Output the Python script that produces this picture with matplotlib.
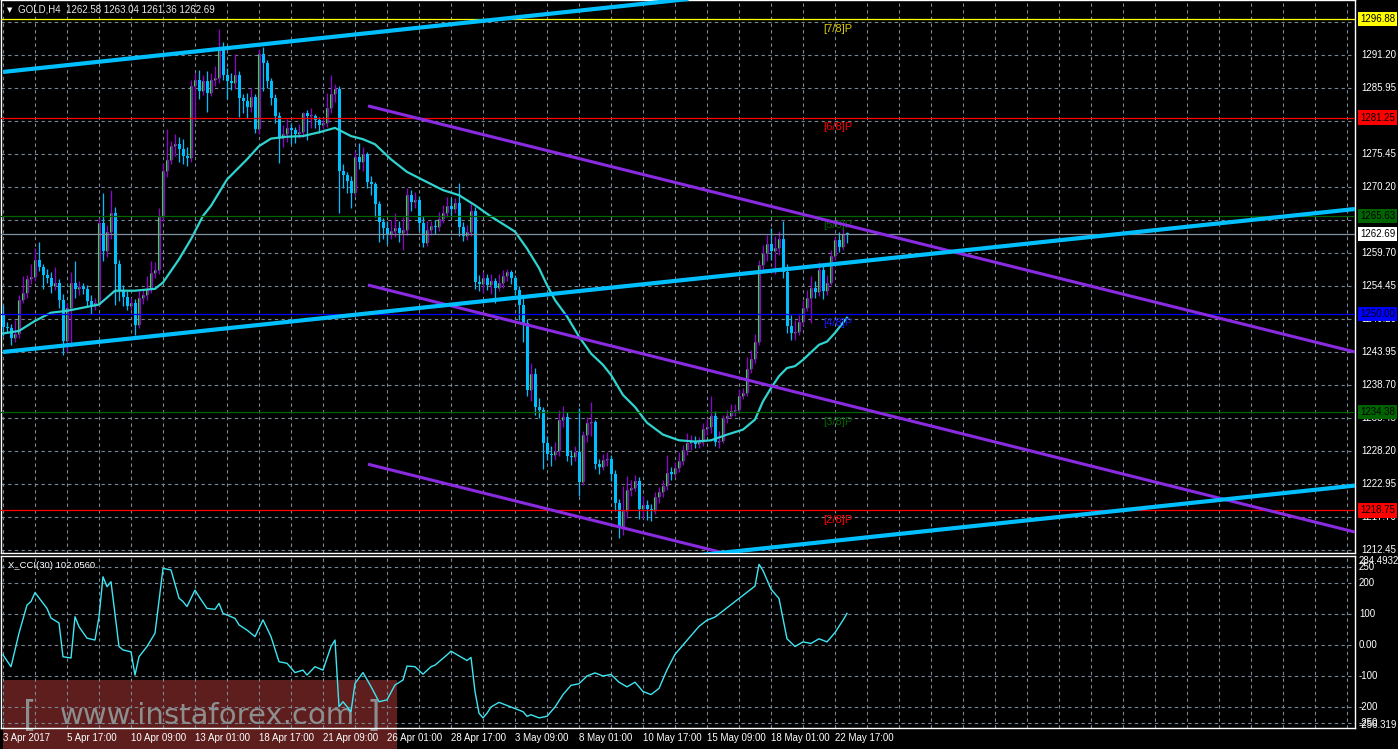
import matplotlib
matplotlib.use("Agg")
import matplotlib.pyplot as plt
import matplotlib.transforms as mtransforms
from matplotlib.patches import Rectangle
import numpy as np

plt.rcParams["font.family"] = ["Liberation Sans", "DejaVu Sans"]

W, H = 1398, 749

# H4 gold candles, 3 Apr - 23 May 2017
first_open = 1250.0
closes = [
    1248.0, 1247.8, 1246.2, 1246.8, 1252.3, 1253.3, 1255.5, 1255.9, 1258.6, 1257.5,
    1256.2, 1255.8, 1254.4, 1254.9, 1252.3, 1245.7, 1250.9, 1255.0, 1254.0, 1254.3,
    1254.0, 1252.1, 1251.3, 1251.8, 1264.4, 1260.0, 1263.0, 1266.0, 1258.0, 1253.8,
    1252.7, 1251.3, 1251.8, 1248.2, 1252.6, 1253.0, 1254.0, 1256.5, 1257.0, 1265.5,
    1272.7, 1274.5, 1276.7, 1277.0, 1276.2, 1275.2, 1274.8, 1286.3, 1287.3, 1285.5,
    1287.0, 1285.2, 1287.3, 1287.5, 1292.5, 1288.0, 1287.0, 1286.8, 1288.0, 1284.4,
    1283.9, 1283.0, 1284.5, 1279.4, 1291.3, 1290.0, 1287.0, 1284.4, 1281.5, 1278.0,
    1278.6, 1279.6, 1279.2, 1278.7, 1279.0, 1281.9, 1281.5, 1281.5, 1280.8, 1280.0,
    1280.4, 1282.8, 1285.0, 1285.8, 1272.7, 1272.1, 1271.2, 1269.3, 1275.0, 1274.2,
    1275.5, 1271.0, 1270.6, 1267.5, 1264.6, 1263.7, 1262.8, 1263.2, 1263.6, 1262.9,
    1263.3, 1268.9, 1267.8, 1268.2, 1264.4, 1261.3, 1263.3, 1264.0, 1263.8, 1265.1,
    1266.1, 1267.2, 1266.7, 1267.6, 1263.8, 1262.4, 1263.0, 1266.4, 1255.1, 1254.8,
    1255.7, 1254.6, 1255.3, 1254.1, 1255.0, 1256.0, 1256.6, 1255.8, 1253.8, 1251.4,
    1248.5, 1237.9, 1240.5, 1235.2, 1234.7, 1229.4, 1227.8, 1227.5, 1228.2, 1233.1,
    1233.6, 1227.4, 1227.3, 1228.0, 1223.3, 1230.8, 1232.6, 1232.8, 1226.2, 1225.7,
    1226.8, 1227.0, 1224.6, 1220.0, 1215.9, 1218.6, 1222.0, 1222.3, 1223.4, 1218.9,
    1219.6, 1218.9, 1218.7, 1220.8, 1221.6, 1222.6, 1224.7, 1224.6, 1225.5, 1226.6,
    1228.3, 1229.5, 1229.8, 1229.3, 1229.6, 1231.7, 1232.0, 1233.7, 1229.6, 1229.8,
    1233.4, 1233.8, 1234.5, 1234.8, 1236.9, 1237.5, 1241.2, 1242.8, 1245.5, 1257.8,
    1259.7, 1261.2, 1260.0, 1260.5, 1262.0, 1256.6, 1248.1, 1246.9, 1247.2, 1248.8,
    1251.0, 1252.5, 1254.1, 1253.5, 1257.0, 1253.6, 1255.0, 1259.3, 1261.7, 1260.6,
    1262.8, 1262.69,
]
highs = [
    1251.5, 1248.8, 1248.4, 1249.0, 1253.0, 1256.0, 1256.2, 1258.0, 1260.5, 1261.5,
    1258.0, 1257.2, 1256.6, 1257.5, 1255.6, 1253.2, 1251.8, 1256.6, 1258.4, 1255.2,
    1255.0, 1254.6, 1253.0, 1252.6, 1265.2, 1269.2, 1264.2, 1269.8, 1267.0, 1258.6,
    1254.6, 1253.6, 1252.6, 1252.4, 1253.6, 1254.0, 1256.0, 1258.4, 1258.2, 1266.8,
    1274.0, 1279.5, 1277.5, 1278.6, 1278.2, 1277.8, 1276.6, 1287.3, 1288.4, 1288.8,
    1288.0, 1288.6, 1288.4, 1289.4, 1295.4, 1293.2, 1289.2, 1288.4, 1291.4, 1288.6,
    1285.0, 1285.2, 1286.0, 1285.0, 1292.2, 1292.4, 1290.4, 1287.6, 1285.0, 1282.2,
    1280.0, 1281.0, 1280.4, 1279.8, 1280.2, 1282.2, 1282.4, 1282.8, 1281.8, 1281.4,
    1281.2, 1285.2, 1288.0, 1286.6, 1286.2, 1273.8, 1272.6, 1272.0, 1276.0, 1277.2,
    1276.6, 1275.8, 1272.0, 1271.0, 1268.0, 1265.2, 1264.8, 1265.0, 1266.0, 1264.8,
    1265.4, 1270.0, 1269.8, 1269.4, 1268.8, 1265.6, 1264.8, 1264.8, 1265.0, 1266.2,
    1267.4, 1268.6, 1268.4, 1268.4, 1270.9, 1264.6, 1264.2, 1267.6, 1267.0, 1256.2,
    1256.6, 1256.4, 1256.4, 1255.8, 1256.4, 1257.0, 1257.2, 1257.0, 1256.2, 1254.4,
    1252.6, 1249.2, 1242.2, 1241.4, 1236.6, 1235.2, 1230.6, 1229.0, 1229.6, 1234.8,
    1235.4, 1234.4, 1228.4, 1229.0, 1235.0, 1231.4, 1233.6, 1236.0, 1233.2, 1227.0,
    1227.8, 1228.0, 1227.6, 1225.2, 1220.6, 1222.6, 1224.2, 1223.6, 1224.4, 1224.0,
    1221.0, 1220.4, 1219.8, 1221.6, 1222.4, 1223.6, 1227.6, 1225.6, 1226.4, 1228.0,
    1229.2, 1231.0, 1230.8, 1230.6, 1230.4, 1232.6, 1233.4, 1237.0, 1234.6, 1231.4,
    1234.0, 1234.8, 1235.6, 1235.6, 1238.0, 1238.2, 1243.2, 1244.2, 1246.8, 1258.6,
    1261.0, 1262.6, 1263.6, 1262.4, 1263.2, 1264.8, 1258.0, 1249.8, 1249.0, 1249.8,
    1252.2, 1253.8, 1256.0, 1255.2, 1258.2, 1257.6, 1256.2, 1260.2, 1262.2, 1263.0,
    1263.6, 1263.04,
]
lows = [
    1246.5, 1246.9, 1245.0, 1245.6, 1246.2, 1251.8, 1252.6, 1254.8, 1255.2, 1256.8,
    1254.0, 1255.0, 1253.4, 1253.8, 1251.0, 1243.5, 1244.0, 1244.8, 1252.5, 1253.0,
    1253.2, 1251.2, 1250.0, 1250.6, 1251.2, 1258.5, 1259.0, 1262.0, 1251.5, 1252.0,
    1251.2, 1250.6, 1250.8, 1246.6, 1247.8, 1251.6, 1252.2, 1253.4, 1255.8, 1256.4,
    1264.8, 1271.8, 1273.8, 1275.2, 1274.2, 1273.8, 1273.6, 1274.2, 1280.8, 1284.2,
    1284.8, 1282.2, 1284.6, 1286.2, 1286.8, 1287.2, 1284.2, 1285.6, 1285.8, 1281.4,
    1282.0, 1281.2, 1282.2, 1278.8, 1278.6, 1285.4, 1286.0, 1283.2, 1280.4, 1274.0,
    1276.6, 1277.4, 1277.0, 1277.2, 1278.0, 1278.2, 1277.6, 1279.6, 1279.6, 1278.8,
    1279.4, 1279.8, 1282.0, 1283.8, 1266.0, 1270.0, 1269.2, 1266.8, 1268.8, 1273.0,
    1272.8, 1270.0, 1269.0, 1265.4, 1261.4, 1262.0, 1261.2, 1262.0, 1262.2, 1261.4,
    1260.2, 1262.6, 1266.4, 1266.8, 1263.2, 1260.6, 1260.8, 1262.6, 1262.8, 1263.2,
    1264.4, 1265.4, 1265.6, 1266.0, 1262.4, 1261.6, 1261.8, 1262.4, 1254.0, 1253.6,
    1253.4, 1253.8, 1253.2, 1251.8, 1253.6, 1254.2, 1255.2, 1254.8, 1253.0, 1249.0,
    1245.6, 1237.0, 1236.2, 1234.0, 1233.4, 1225.4, 1226.8, 1225.8, 1226.8, 1227.4,
    1232.0, 1226.6, 1226.0, 1226.6, 1221.0, 1222.8, 1229.6, 1230.6, 1225.4, 1224.6,
    1225.2, 1225.8, 1223.4, 1218.6, 1214.4, 1214.8, 1217.6, 1221.0, 1221.8, 1217.4,
    1217.6, 1217.2, 1217.0, 1218.2, 1220.0, 1220.8, 1222.0, 1223.6, 1224.0, 1224.8,
    1226.0, 1227.6, 1228.4, 1228.6, 1228.6, 1229.0, 1230.8, 1231.0, 1229.0, 1228.6,
    1229.4, 1232.6, 1233.4, 1233.8, 1234.2, 1236.4, 1237.0, 1240.6, 1242.2, 1245.0,
    1256.6, 1258.4, 1258.6, 1256.4, 1259.4, 1255.8, 1247.0, 1245.8, 1245.8, 1246.6,
    1248.2, 1250.4, 1248.6, 1252.6, 1252.8, 1252.4, 1253.0, 1254.6, 1258.6, 1259.8,
    1260.2, 1261.36,
]

# moving average (cyan curve), read at sample bars
ma_bars = [0, 4, 8, 12, 16, 20, 24, 28, 33, 38, 40, 44, 47, 50, 52, 56, 61, 64, 67,
           71, 75, 79, 83, 87, 90, 93, 97, 101, 105, 110, 114, 118, 122, 128, 131,
           134, 136, 138, 141, 144, 147, 150, 152, 155, 158, 161, 165, 169, 173, 177,
           181, 185, 188, 190, 192, 194, 196, 198, 200, 202, 204, 206, 208, 211]
ma_values = [1246.9, 1247.3, 1248.9, 1250.2, 1250.5, 1251.0, 1251.5, 1253.7, 1253.7,
             1254.0, 1255.0, 1258.7, 1261.9, 1265.6, 1267.2, 1271.4, 1274.6, 1276.7,
             1277.9, 1278.2, 1278.3, 1278.9, 1279.6, 1278.3, 1277.8, 1277.0, 1274.6,
             1272.6, 1271.3, 1269.7, 1268.9, 1267.3, 1265.5, 1263.1, 1260.4, 1257.3,
             1254.6, 1252.2, 1249.6, 1246.4, 1243.7, 1241.9, 1240.3, 1237.1, 1235.2,
             1232.7, 1230.8, 1229.9, 1229.7, 1229.9, 1230.8, 1231.6, 1233.2, 1236.1,
             1238.2, 1240.1, 1241.4, 1241.7, 1242.7, 1243.9, 1245.1, 1245.6, 1247.0,
             1249.4]

# X_CCI(30)
cci_bars = [0, 2, 4, 6, 7, 8, 11, 12, 14, 15, 17, 18, 19, 21, 23, 24, 25, 26, 27, 29,
            30, 32, 33, 34, 36, 38, 40, 42, 44, 45, 46, 48, 49, 51, 53, 54, 55, 58, 59,
            61, 63, 65, 67, 69, 71, 73, 75, 76, 78, 80, 82, 83, 84, 85, 87, 88, 90, 92,
            94, 96, 98, 100, 101, 103, 105, 107, 108, 111, 112, 114, 116, 117, 118,
            119, 120, 121, 122, 124, 126, 128, 130, 131, 132, 134, 136, 138, 140, 142,
            144, 146, 148, 150, 152, 154, 156, 158, 160, 162, 164, 166, 168, 170, 172,
            174, 176, 178, 180, 182, 184, 186, 188, 189, 190, 192, 194, 196, 198, 200,
            202, 204, 206, 208, 210, 211]
cci_values = [-32, -70, 38, 129, 140, 169, 118, 87, 71, -38, -42, 91, 59, 22, 16, 91,
              220, 188, 204, -5, -16, -22, -97, -38, -5, 38, 247, 242, 151, 140, 124,
              177, 156, 118, 115, 134, 102, 86, 65, 48, 27, 81, 27, -54, -59, -89, -81,
              -97, -70, -81, -5, 16, -199, -183, -215, -124, -89, -134, -183, -177,
              -129, -113, -68, -70, -94, -70, -65, -32, -20, -35, -50, -40, -150, -220,
              -235, -220, -200, -185, -195, -205, -215, -230, -225, -235, -230, -200,
              -160, -130, -125, -100, -90, -100, -95, -120, -135, -120, -150, -160,
              -140, -80, -30, 0, 30, 60, 80, 90, 110, 130, 150, 170, 190, 260, 240, 180,
              150, 20, -5, 10, 5, 20, 10, 40, 80, 102]

time_label_bars = [0, 16, 32, 48, 64, 80, 96, 112, 128, 144, 160, 176, 192, 208]
time_labels = ["3 Apr 2017", "5 Apr 17:00", "10 Apr 09:00", "13 Apr 01:00",
               "18 Apr 17:00", "21 Apr 09:00", "26 Apr 01:00", "28 Apr 17:00",
               "3 May 09:00", "8 May 01:00", "10 May 17:00", "15 May 09:00",
               "18 May 01:00", "22 May 17:00"]

price_grid = [1212.45, 1217.70, 1222.95, 1228.20, 1233.45, 1238.70, 1243.95, 1249.20,
              1254.45, 1259.70, 1264.95, 1270.20, 1275.45, 1280.70, 1285.95, 1291.20,
              1296.45]
cci_grid = [250, 200, 100, 0, -100, -200, -250]

# Murrey math levels
levels = [1296.88, 1281.25, 1265.63, 1250.00, 1234.38, 1218.75]
level_names = ["[7/8]P", "[6/8]P", "[5/8]P", "[4/8]P", "[3/8]P", "[2/8]P"]
level_colors = ["#ffff00", "#ff0000", "#006400", "#0000ff", "#006400", "#ff0000"]
level_text_colors = ["#d8c800", "#ff0000", "#006400", "#1a1aff", "#006400", "#ff0000"]
current_price = 1262.69

# trend channels: (bar, price) end points
blue_lines = [((0, 1288.5), (338, 1311.4)),
              ((0, 1243.95), (338, 1266.7)),
              ((150, 1210.0), (338, 1222.7))]
purple_lines = [((91.25, 1283.1), (338, 1243.95)),
                ((91.25, 1254.6), (338, 1215.3)),
                ((91.25, 1226.1), (338, 1186.9))]


def rect(x0, y0, x1, y1):
    return [x0 / W, 1 - y1 / H, (x1 - x0) / W, (y1 - y0) / H]


fig = plt.figure(figsize=(W / 100, H / 100), dpi=100, facecolor="black")

# watermark box sits behind the indicator pane
fig.patches.append(Rectangle((3 / W, 0), 394 / W, 69 / H, transform=fig.transFigure,
                             facecolor="#5e1e1e", edgecolor="none", zorder=-2))
fig.text(207 / W, 1 - 716 / H, "www.instaforex.com", color="#8e8e8e", fontsize=21,
         family="DejaVu Sans", ha="center", va="center", zorder=-1)
fig.text(30 / W, 1 - 716 / H, "[", color="#8e8e8e", fontsize=25, family="DejaVu Sans",
         ha="center", va="center", zorder=-1)
fig.text(373 / W, 1 - 716 / H, "]", color="#8e8e8e", fontsize=25, family="DejaVu Sans",
         ha="center", va="center", zorder=-1)

ax = fig.add_axes(rect(1, 0, 1355, 553), facecolor="black")
ax2 = fig.add_axes(rect(1, 556, 1355, 728), facecolor="none")

for a in (ax, ax2):
    a.set_xlim(-0.5, 338)
    a.set_xticks([])
    a.set_yticks([])
    for s in a.spines.values():
        s.set_color("white")
        s.set_linewidth(1)
ax.set_ylim(1211.97, 1299.95)
ax2.set_ylim(-267.7, 287)

grid_kw = dict(color="#7a8896", lw=0.8, dashes=(3, 3), zorder=0)
for a in (ax, ax2):
    for b in range(0, 338, 8):
        a.axvline(b, **grid_kw)
for p in price_grid:
    ax.axhline(p, **grid_kw)
for v in cci_grid:
    ax2.axhline(v, **grid_kw)

# candles
c = np.array(closes)
o = np.concatenate([[first_open], c[:-1]])
hi = np.array(highs)
lo = np.array(lows)
x = np.arange(len(c))
up = c >= o
body_bot = np.minimum(o, c)
body_h = np.maximum(np.abs(c - o), 0.18)

ax.vlines(x[up], lo[up], hi[up], color="#9400d3", lw=0.9, zorder=2)
ax.vlines(x[~up], lo[~up], hi[~up], color="#00bfff", lw=0.9, zorder=2)
ax.bar(x[up], body_h[up], bottom=body_bot[up], width=0.75, color="#9400d3", zorder=3)
ax.bar(x[~up], body_h[~up], bottom=body_bot[~up], width=0.75, color="#00bfff", zorder=3)
ax.vlines(x[up] - 0.3, body_bot[up], body_bot[up] + body_h[up], color="#00ff00",
          lw=0.8, zorder=4)

# moving average
ax.plot(ma_bars, ma_values, color="#2fd3cf", lw=1.6, zorder=5)

# horizontal levels
for lvl, name, col, tcol in zip(levels, level_names, level_colors, level_text_colors):
    ax.axhline(lvl, color=col, lw=0.9, zorder=6)
    ax.text(205, lvl - 0.7, name, color=tcol, fontsize=8, ha="left", va="top", zorder=6)
ax.axhline(current_price, color="#8090a0", lw=0.9, zorder=6)

# channels
for (x0, y0), (x1, y1) in purple_lines:
    ax.plot([x0, x1], [y0, y1], color="#8a2be2", lw=2.2, zorder=7,
            solid_capstyle="butt")
for (x0, y0), (x1, y1) in blue_lines:
    ax.plot([x0, x1], [y0, y1], color="#00bfff", lw=3.0, zorder=8,
            solid_capstyle="butt")

# CCI
ax2.plot(cci_bars, cci_values, color="#3ee6f2", lw=1.0, zorder=3)

# right price scale
tr_main = mtransforms.blended_transform_factory(fig.transFigure, ax.transData)
tr_cci = mtransforms.blended_transform_factory(fig.transFigure, ax2.transData)
for p in price_grid:
    fig.text(1361 / W, p, f"{p:.2f}", transform=tr_main, color="white", fontsize=7,
             va="center", ha="left")
box_kw = dict(boxstyle="square,pad=0.22", edgecolor="none")
for lvl, col in zip(levels, level_colors):
    fig.text(1360 / W, lvl, f"{lvl:.2f}", transform=tr_main, color="black", fontsize=7,
             va="center", ha="left", bbox=dict(facecolor=col, **box_kw), zorder=5)
fig.text(1360 / W, current_price, f"{current_price:.2f}", transform=tr_main,
         color="black", fontsize=7, va="center", ha="left",
         bbox=dict(facecolor="white", **box_kw), zorder=5)

for v in cci_grid:
    lab = "0.00" if v == 0 else str(v)
    fig.text(1359 / W, v, lab, transform=tr_cci, color="white", fontsize=7,
             va="center", ha="left")
fig.text(1359 / W, 270, "284.4932", transform=tr_cci, color="white", fontsize=7,
         va="center", ha="left")
fig.text(1359 / W, -258, "-256.319", transform=tr_cci, color="white", fontsize=7,
         va="center", ha="left")

# time axis
tr_time = mtransforms.blended_transform_factory(ax2.transData, fig.transFigure)
for b, lab in zip(time_label_bars, time_labels):
    fig.text(b, 1 - 738 / H, lab, transform=tr_time, color="white", fontsize=7,
             va="center", ha="left", zorder=5)

# titles
fig.text(7 / W, 1 - 10 / H, "\u25bc", color="white", fontsize=5, family="DejaVu Sans",
         va="center", ha="left")
fig.text(18 / W, 1 - 10 / H, "GOLD,H4  1262.58 1263.04 1261.36 1262.69", color="#e8e8e8",
         fontsize=7, va="center", ha="left")
fig.text(8 / W, 1 - 565 / H, "X_CCI(30) 102.0560", color="white", fontsize=6.8,
         va="center", ha="left")

fig.savefig("out.png", dpi=100, facecolor="black")
